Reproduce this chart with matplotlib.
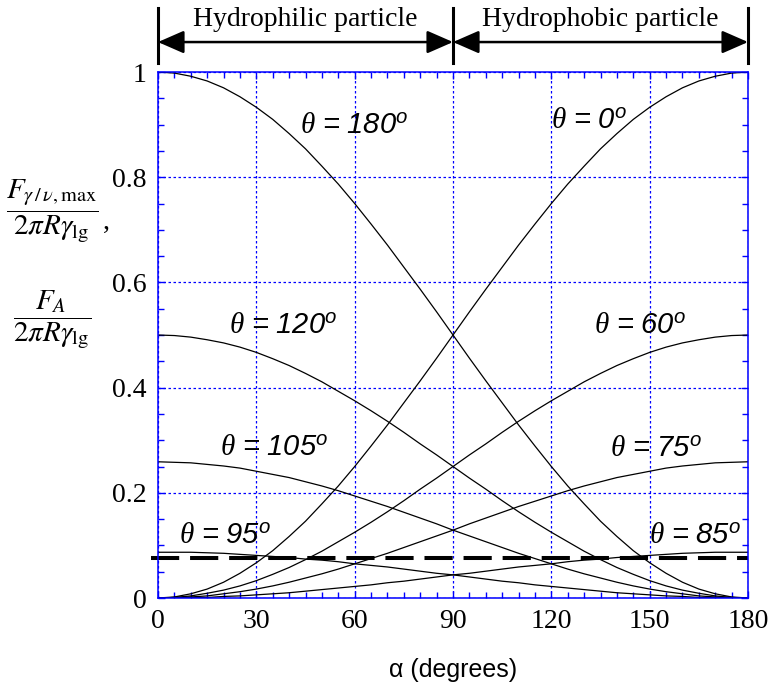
import matplotlib
matplotlib.use("Agg")
import matplotlib.pyplot as plt
from matplotlib.ticker import MultipleLocator
import numpy as np

# valores (alpha cada 5 grados)
alpha = [0, 5, 10, 15, 20, 25, 30, 35, 40, 45, 50, 55, 60, 65, 70, 75, 80, 85, 90,
         95, 100, 105, 110, 115, 120, 125, 130, 135, 140, 145, 150, 155, 160, 165, 170, 175, 180]

# particulas hidrofilicas (decrecen con alpha)
f_180 = [1.000, 0.998, 0.992, 0.983, 0.970, 0.953, 0.933, 0.910, 0.883, 0.854, 0.821, 0.787,
         0.750, 0.711, 0.671, 0.629, 0.587, 0.544, 0.500, 0.456, 0.413, 0.371, 0.329, 0.289,
         0.250, 0.213, 0.179, 0.146, 0.117, 0.090, 0.067, 0.047, 0.030, 0.017, 0.008, 0.002, 0.000]
f_120 = [0.500, 0.499, 0.496, 0.491, 0.485, 0.477, 0.467, 0.455, 0.442, 0.427, 0.411, 0.393,
         0.375, 0.356, 0.336, 0.315, 0.293, 0.272, 0.250, 0.228, 0.207, 0.185, 0.164, 0.144,
         0.125, 0.107, 0.089, 0.073, 0.058, 0.045, 0.033, 0.023, 0.015, 0.009, 0.004, 0.001, 0.000]
f_105 = [0.259, 0.258, 0.257, 0.254, 0.251, 0.247, 0.241, 0.235, 0.229, 0.221, 0.213, 0.204,
         0.194, 0.184, 0.174, 0.163, 0.152, 0.141, 0.129, 0.118, 0.107, 0.096, 0.085, 0.075,
         0.065, 0.055, 0.046, 0.038, 0.030, 0.023, 0.017, 0.012, 0.008, 0.004, 0.002, 0.001, 0.000]
f_95 = [0.087, 0.087, 0.087, 0.086, 0.085, 0.083, 0.081, 0.079, 0.077, 0.074, 0.072, 0.069,
        0.065, 0.062, 0.059, 0.055, 0.051, 0.047, 0.044, 0.040, 0.036, 0.032, 0.029, 0.025,
        0.022, 0.019, 0.016, 0.013, 0.010, 0.008, 0.006, 0.004, 0.003, 0.001, 0.001, 0.000, 0.000]

# particulas hidrofobicas (crecen con alpha)
f_0 = [0.000, 0.002, 0.008, 0.017, 0.030, 0.047, 0.067, 0.090, 0.117, 0.146, 0.179, 0.213,
       0.250, 0.289, 0.329, 0.371, 0.413, 0.456, 0.500, 0.544, 0.587, 0.629, 0.671, 0.711,
       0.750, 0.787, 0.821, 0.854, 0.883, 0.910, 0.933, 0.953, 0.970, 0.983, 0.992, 0.998, 1.000]
f_60 = [0.000, 0.001, 0.004, 0.009, 0.015, 0.023, 0.033, 0.045, 0.058, 0.073, 0.089, 0.107,
        0.125, 0.144, 0.164, 0.185, 0.207, 0.228, 0.250, 0.272, 0.293, 0.315, 0.336, 0.356,
        0.375, 0.393, 0.411, 0.427, 0.442, 0.455, 0.467, 0.477, 0.485, 0.491, 0.496, 0.499, 0.500]
f_75 = [0.000, 0.001, 0.002, 0.004, 0.008, 0.012, 0.017, 0.023, 0.030, 0.038, 0.046, 0.055,
        0.065, 0.075, 0.085, 0.096, 0.107, 0.118, 0.129, 0.141, 0.152, 0.163, 0.174, 0.184,
        0.194, 0.204, 0.213, 0.221, 0.229, 0.235, 0.241, 0.247, 0.251, 0.254, 0.257, 0.258, 0.259]
f_85 = [0.000, 0.000, 0.001, 0.001, 0.003, 0.004, 0.006, 0.008, 0.010, 0.013, 0.016, 0.019,
        0.022, 0.025, 0.029, 0.032, 0.036, 0.040, 0.044, 0.047, 0.051, 0.055, 0.059, 0.062,
        0.065, 0.069, 0.072, 0.074, 0.077, 0.079, 0.081, 0.083, 0.085, 0.086, 0.087, 0.087, 0.087]

curvas = [f_180, f_120, f_105, f_95, f_0, f_60, f_75, f_85]

# F_A (linea discontinua)
f_a = 0.077

etiquetas = ["180", "120", "105", "95", "0", "60", "75", "85"]
pos_etiquetas = [(59.8, 0.90), (38.3, 0.519), (35.4, 0.287), (20.4, 0.120),
                 (131.5, 0.909), (147.0, 0.519), (152.0, 0.285), (163.8, 0.120)]

plt.rcParams["mathtext.fontset"] = "custom"
plt.rcParams["mathtext.it"] = "Liberation Serif:italic"
plt.rcParams["mathtext.rm"] = "Liberation Sans:italic"
plt.rcParams["mathtext.cal"] = "Liberation Sans:italic"

azul = "#0000ff"

fig = plt.figure(figsize=(7.73, 6.88), dpi=100)
ax = fig.add_axes([0.2044, 0.1308, 0.7633, 0.7645])

for c in curvas:
    ax.plot(alpha, c, color="black", lw=0.9)

ax.plot([-2, 180], [f_a, f_a], color="black", lw=2.9, dashes=(7, 2.7), clip_on=False)

for t, (x, y) in zip(etiquetas, pos_etiquetas):
    ax.text(x, y, r"$\theta\,=\," + t + r"^{\mathrm{o}}$", fontsize=21,
            ha="center", va="center")

ax.set_xlim(0, 180)
ax.set_ylim(0, 1)
ax.xaxis.set_major_locator(MultipleLocator(30))
ax.xaxis.set_minor_locator(MultipleLocator(5))
ax.yaxis.set_minor_locator(MultipleLocator(0.05))
ax.set_yticks([0, 0.2, 0.4, 0.6, 0.8, 1.0])
ax.set_yticklabels(["0", "0.2", "0.4", "0.6", "0.8", "1"])

ax.grid(True, which="major", color=azul, linestyle=(0, (2, 2)), lw=0.9)
for s in ax.spines.values():
    s.set_color(azul)
    s.set_linewidth(1.1)
ax.tick_params(which="both", direction="in", top=True, right=True, color=azul,
               width=1.0, labelcolor="black")
ax.tick_params(which="major", length=5, pad=8)
ax.tick_params(which="minor", length=4)
for lab in ax.get_xticklabels() + ax.get_yticklabels():
    lab.set_family("Liberation Serif")
    lab.set_fontsize(20)

ax.set_xlabel("α (degrees)", family="Liberation Sans", fontsize=18, labelpad=17)

# flechas superiores
trans = ax.get_xaxis_transform()
for x in [0, 90, 180]:
    ax.plot([x, x], [1.017, 1.122], transform=trans, color="black", lw=2.2, clip_on=False)
for x0, x1, txt in [(0, 90, "Hydrophilic particle"), (90, 180, "Hydrophobic particle")]:
    ax.annotate("", xy=(x0, 1.057), xytext=(x1, 1.057), xycoords=trans, textcoords=trans,
                arrowprops=dict(arrowstyle="<|-|>,head_length=0.8,head_width=0.35",
                                color="black", lw=1.8, shrinkA=0, shrinkB=0,
                                mutation_scale=20))
    ax.text((x0 + x1) / 2, 1.1, txt, transform=trans, ha="center", va="center",
            family="Liberation Serif", fontsize=20)

# etiqueta del eje y
fig.text(52 / 773, 1 - 211 / 688,
         r"$\dfrac{F_{\gamma\,/\,\nu,\mathrm{max}}}{2\pi R\gamma_{\mathrm{lg}}}$",
         math_fontfamily="stix", fontsize=21, ha="center", va="center")
fig.text(106 / 773, 1 - 222 / 688, ",", family="Liberation Serif", fontsize=20,
         ha="center", va="center")
fig.text(52 / 773, 1 - 320 / 688,
         r"$\dfrac{F_{A}}{2\pi R\gamma_{\mathrm{lg}}}$",
         math_fontfamily="stix", fontsize=21, ha="center", va="center")

fig.savefig("out.png", dpi=100)
